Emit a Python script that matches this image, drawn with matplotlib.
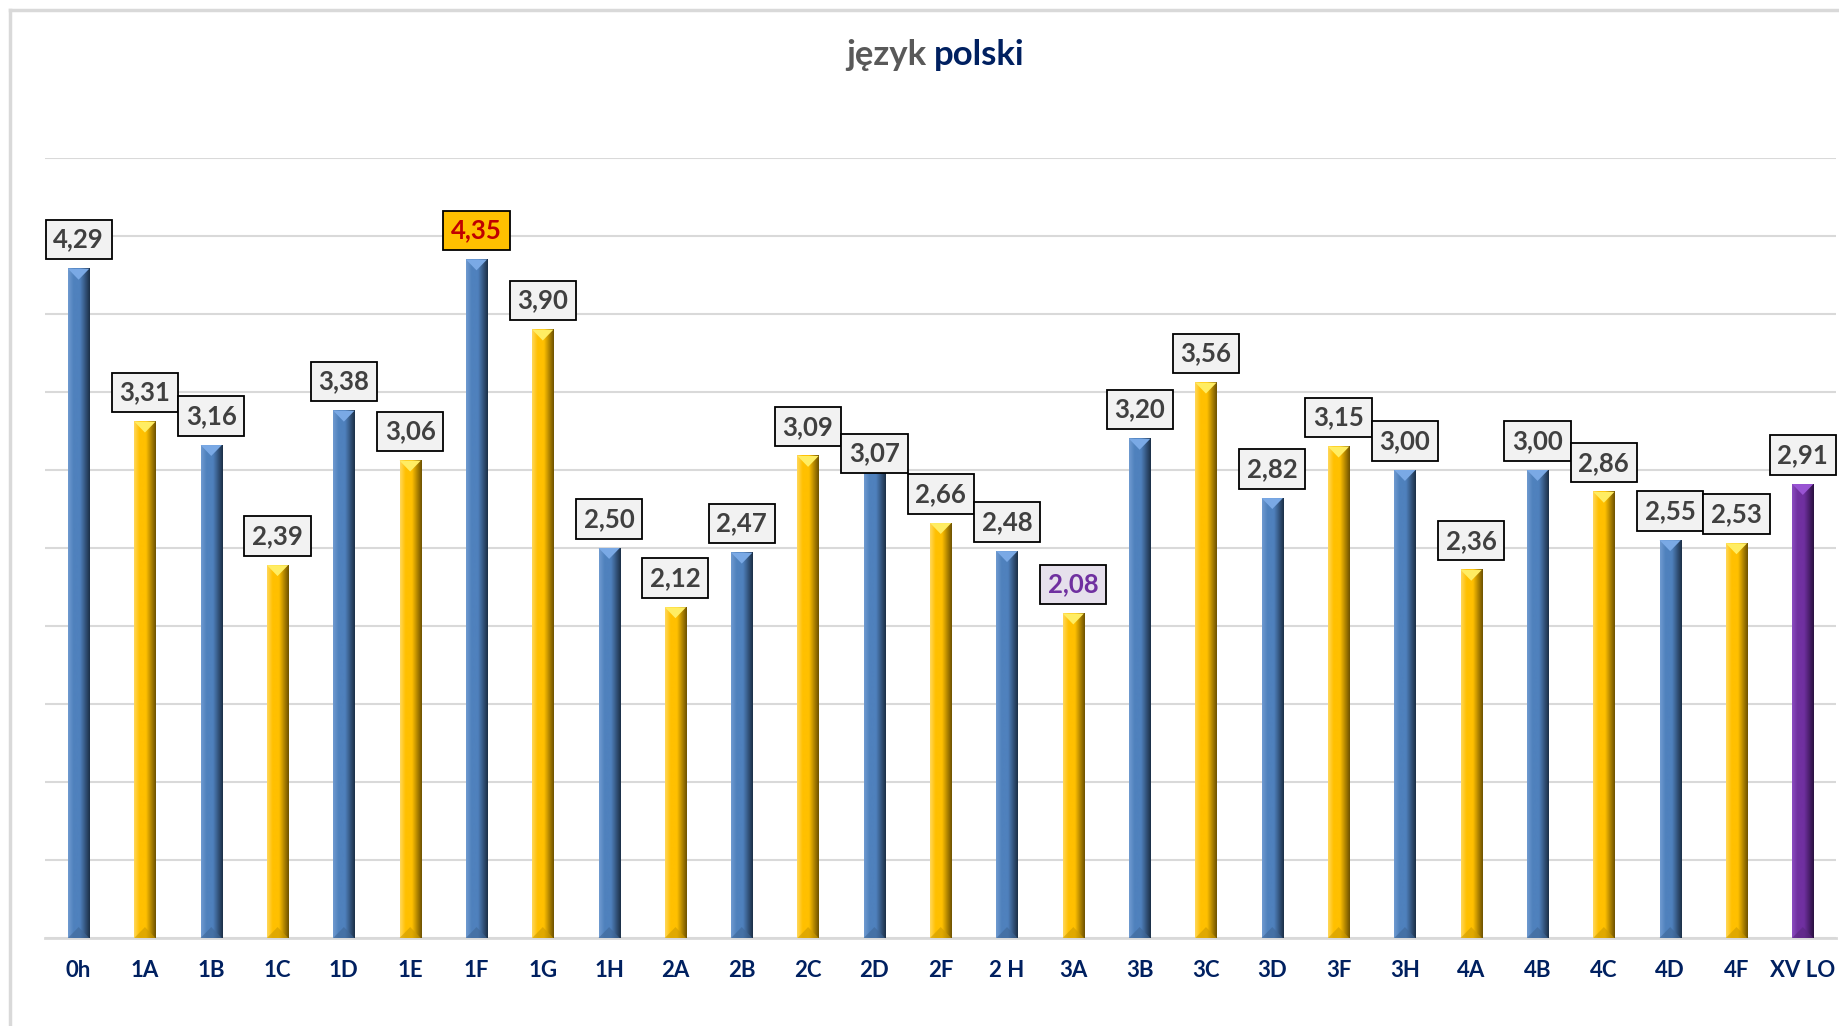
import matplotlib
matplotlib.use("Agg")
import matplotlib.pyplot as plt
import numpy as np
from matplotlib.colors import LinearSegmentedColormap, to_rgb
from matplotlib.lines import Line2D
from matplotlib.patches import Polygon

plt.rcParams["font.family"] = ["Lato", "DejaVu Sans"]

classes = ["0h", "1A", "1B", "1C", "1D", "1E", "1F", "1G", "1H", "2A", "2B", "2C", "2D", "2F",
           "2 H", "3A", "3B", "3C", "3D", "3F", "3H", "4A", "4B", "4C", "4D", "4F", "XV LO"]
scores = [4.29, 3.31, 3.16, 2.39, 3.38, 3.06, 4.35, 3.90, 2.50, 2.12, 2.47, 3.09, 3.07, 2.66,
          2.48, 2.08, 3.20, 3.56, 2.82, 3.15, 3.00, 2.36, 3.00, 2.86, 2.55, 2.53, 2.91]

# shading: light edge, main colour, dark edge
palettes = {
    "blue": ["#6f9ad0", "#4f81bd", "#1c2f47"],
    "gold": ["#ffd75a", "#ffc000", "#6e5200"],
    "purple": ["#8b4cc0", "#7030a0", "#2a1040"],
}
bar_kind = ["blue" if i % 2 == 0 else "gold" for i in range(len(classes) - 1)] + ["purple"]

# special label styles: (face, text colour)
label_style = {"1F": ("#ffc000", "#c00000"), "3A": ("#e6e0ec", "#7030a0")}
label_nudge = {"2D": -17}

fig = plt.figure(figsize=(18.4, 10.26), dpi=100)
ax = fig.add_axes([0.0247, 0.0858, 0.9731, 0.7602])

bar_w = 0.32
x = np.arange(len(classes))
grad = np.linspace(0, 1, 64).reshape(1, -1)
for i, (v, kind) in enumerate(zip(scores, bar_kind)):
    light, main, dark = palettes[kind]
    cmap = LinearSegmentedColormap.from_list(
        kind, [(0, light), (0.25, main), (0.55, main), (1, dark)])
    ax.imshow(grad, cmap=cmap, aspect="auto", zorder=3,
              extent=[i - bar_w / 2, i + bar_w / 2, 0, v], interpolation="bilinear")
    lt = np.array(to_rgb(light))
    tri = Polygon([[i - bar_w / 2, v], [i + bar_w / 2, v], [i, v - 0.07]], closed=True,
                  facecolor=np.clip(lt * 1.1, 0, 1), edgecolor="none", zorder=4)
    ax.add_patch(tri)
    bot = Polygon([[i - bar_w / 2, 0], [i + bar_w / 2, 0], [i, 0.07]], closed=True,
                  facecolor=np.array(to_rgb(main)) * 0.8, edgecolor="none", zorder=4, alpha=0.6)
    ax.add_patch(bot)

for i, (name, v) in enumerate(zip(classes, scores)):
    face, tcol = label_style.get(name, ("#f2f2f2", "#404040"))
    ax.annotate(f"{v:.2f}".replace(".", ","), (i, v), xytext=(0, 21 + label_nudge.get(name, 0)),
                textcoords="offset points", ha="center", va="center", fontsize=18.5,
                fontweight="bold", color=tcol, zorder=6,
                bbox=dict(boxstyle="square,pad=0.3", facecolor=face, edgecolor="black", lw=1.3))

ax.set_xlim(-0.5, len(classes) - 0.5)
ax.set_ylim(0, 5)
ax.set_yticks(np.arange(0, 5.01, 0.5))
ax.yaxis.grid(True, color="#d9d9d9", lw=1.5, zorder=0)
ax.set_axisbelow(True)
ax.set_yticklabels([])
ax.tick_params(axis="y", length=0)
ax.set_xticks(x)
ax.set_xticklabels(classes, fontsize=16, fontweight="bold", color="#002060")
ax.tick_params(axis="x", length=0, pad=16)
for s in ["top", "right", "left"]:
    ax.spines[s].set_visible(False)
ax.spines["bottom"].set_color("#d9d9d9")
ax.spines["bottom"].set_linewidth(2)

fig.text(0.5033, 0.946, "język", ha="right", va="center", fontsize=25, fontweight="bold",
         color="#595959")
fig.text(0.5076, 0.946, "polski", ha="left", va="center", fontsize=25, fontweight="bold",
         color="#002060")

# outer chart frame (left and top edges visible)
fig.add_artist(Line2D([0.0054, 0.0054], [0, 0.990], color="#d9d9d9", lw=2.5,
                      transform=fig.transFigure))
fig.add_artist(Line2D([0.0054, 1], [0.990, 0.990], color="#d9d9d9", lw=2.5,
                      transform=fig.transFigure))

fig.savefig("out.png", dpi=100)
